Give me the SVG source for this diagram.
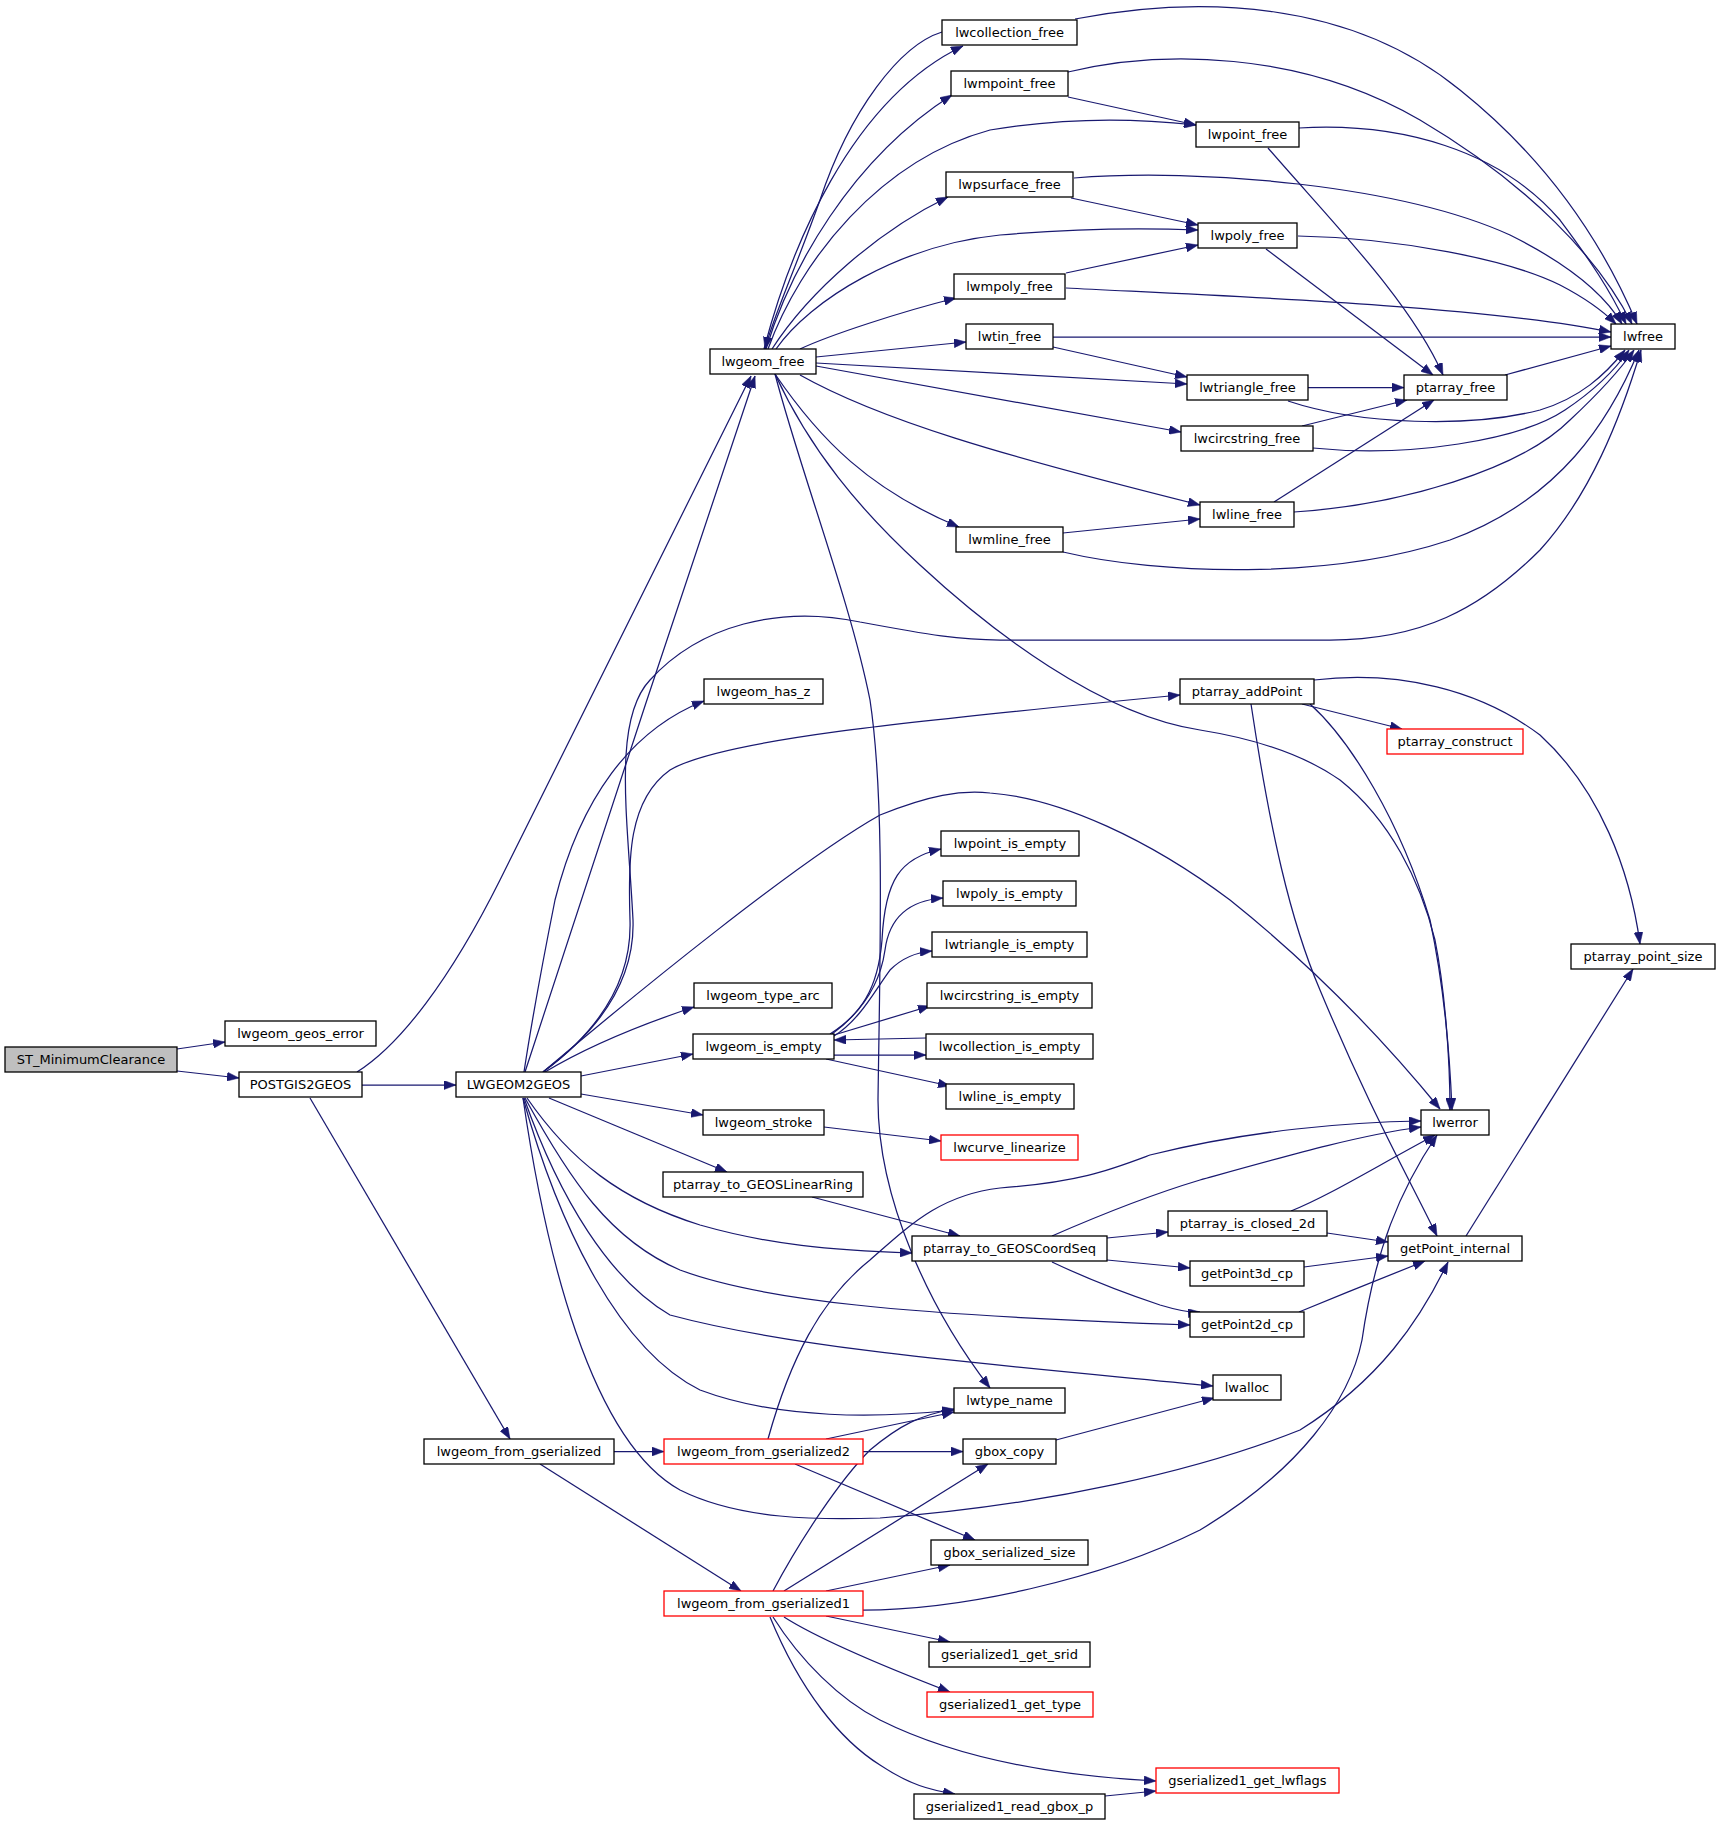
<svg xmlns="http://www.w3.org/2000/svg" width="1717" height="1825" viewBox="0 0 1717 1825">
<style>
.n rect{fill:#fff;stroke:#000;stroke-width:1.3}
.n.red rect{stroke:#ff0000}
.n.root rect{fill:#bfbfbf;stroke:#000}
.n text{font-family:"DejaVu Sans","Liberation Sans",sans-serif;font-size:13px;fill:#000;text-anchor:middle}
.e path{fill:none;stroke:#191970;stroke-width:1.25;marker-end:url(#ah)}
</style>
<defs>
<marker id="ah" markerUnits="userSpaceOnUse" viewBox="0 0 12 9" refX="12" refY="4.5" markerWidth="12" markerHeight="9" orient="auto">
<path d="M0,0 L12,4.5 L0,9 z" fill="#191970" stroke="#191970" stroke-width="0.5"/>
</marker>
</defs>
<rect width="1717" height="1825" fill="#fff"/>
<g id="edges" class="e">
<path d="M177,1049 L225,1042"/>
<path d="M177,1071 L239,1078"/>
<path d="M357,1072 C400,1045 450,980 500,880 C600,680 700,480 751,376"/>
<path d="M362,1085 L456,1085"/>
<path d="M310,1098 L510,1439"/>
<path d="M525,1072 C560,960 700,540 755,376"/>
<path d="M543,1072 C600,1030 635,980 633,920 C628,820 612,720 650,680 C700,625 780,605 860,622 C930,635 960,640 1000,640 L1330,640 C1420,640 1480,610 1540,550 C1590,495 1620,420 1641,350"/>
<path d="M524,1072 C535,1000 545,950 555,900 C580,800 630,730 704,701"/>
<path d="M543,1072 C600,1030 632,980 630,920 C628,860 628,800 670,770 C720,740 900,722 1180,695"/>
<path d="M543,1072 C640,990 800,860 880,815 C930,795 960,790 990,793 C1060,798 1150,840 1230,900 C1330,980 1400,1060 1440,1109"/>
<path d="M545,1072 C590,1045 640,1025 694,1007"/>
<path d="M581,1076 L693,1054"/>
<path d="M581,1094 L703,1115"/>
<path d="M549,1098 L727,1172"/>
<path d="M527,1098 C570,1160 620,1200 700,1225 C770,1245 830,1250 912,1253"/>
<path d="M525,1098 C570,1180 610,1240 680,1270 C760,1300 900,1315 1190,1325"/>
<path d="M524,1098 C560,1200 610,1280 670,1315 C800,1350 1000,1365 1213,1386"/>
<path d="M523,1098 C560,1230 620,1350 700,1390 C780,1420 880,1418 954,1410"/>
<path d="M523,1098 C545,1250 590,1440 680,1490 C740,1520 820,1520 880,1518 C1050,1505 1200,1470 1300,1430 C1380,1380 1420,1320 1448,1262"/>
<path d="M1075,19 C1200,-5 1350,0 1460,90 C1560,170 1610,260 1637,324"/>
<path d="M1068,72 C1160,50 1300,50 1420,120 C1530,185 1600,260 1632,324"/>
<path d="M1068,97 L1196,125"/>
<path d="M1299,128 C1400,122 1500,150 1560,220 C1590,260 1610,290 1626,324"/>
<path d="M1268,148 C1330,220 1410,300 1443,375"/>
<path d="M1074,178 C1200,168 1400,185 1510,235 C1570,265 1605,295 1622,324"/>
<path d="M1071,198 L1198,225"/>
<path d="M1298,236 C1400,238 1510,260 1560,285 C1585,298 1602,310 1616,324"/>
<path d="M1266,249 L1433,375"/>
<path d="M1066,273 L1198,245"/>
<path d="M1066,288 C1200,295 1480,305 1611,332"/>
<path d="M1053,337 L1611,337"/>
<path d="M1053,347 L1187,377"/>
<path d="M1308,387.5 L1404,387.5"/>
<path d="M1288,401 C1360,425 1470,428 1540,410 C1580,398 1605,375 1625,350"/>
<path d="M1505,375 L1611,346"/>
<path d="M1302,426 L1407,400"/>
<path d="M1313,448 C1410,458 1520,440 1565,410 C1595,390 1615,370 1629,350"/>
<path d="M1274,502 L1434,400"/>
<path d="M1294,512 C1400,505 1520,470 1570,420 C1600,392 1620,370 1634,350"/>
<path d="M1063,533 L1200,519"/>
<path d="M1063,552 C1160,575 1330,580 1450,540 C1560,500 1610,420 1639,350"/>
<path d="M775,374 C820,440 870,490 959,527"/>
<path d="M800,375 C880,420 1000,455 1200,505"/>
<path d="M816,366 L1181,432"/>
<path d="M816,363 L1187,384"/>
<path d="M816,357 L966,342"/>
<path d="M800,349 C830,335 900,312 956,298"/>
<path d="M776,349 C810,300 900,245 1000,235 C1080,228 1150,228 1198,230"/>
<path d="M772,349 C810,290 880,230 948,197"/>
<path d="M768,349 C800,260 880,160 990,130 C1080,115 1150,120 1196,125"/>
<path d="M766,349 C790,270 850,160 952,95"/>
<path d="M764,349 C790,250 850,100 963,46"/>
<path d="M942,32 C900,45 850,110 820,200 C795,270 772,320 765,349"/>
<path d="M775,374 C810,450 860,510 920,565 C990,630 1100,715 1200,730 C1250,738 1300,752 1340,780 C1390,820 1420,880 1435,940 C1445,990 1450,1060 1450,1110"/>
<path d="M775,374 C800,470 850,600 870,700 C885,800 880,950 878,1100 C878,1200 930,1310 990,1388"/>
<path d="M1302,704 L1402,729"/>
<path d="M1310,704 C1350,740 1400,820 1430,920 C1445,990 1450,1060 1452,1110"/>
<path d="M1251,704 C1270,830 1290,920 1320,990 C1370,1110 1410,1180 1437,1236"/>
<path d="M1314,680 C1400,670 1480,690 1540,735 C1600,790 1630,870 1640,944"/>
<path d="M830,1034 C860,1015 878,990 882,940 C885,880 900,858 941,849"/>
<path d="M832,1034 C862,1012 880,985 885,950 C890,912 915,900 943,898"/>
<path d="M834,1036 C860,1020 875,990 890,970 C905,955 920,952 932,951"/>
<path d="M834,1035 L930,1006"/>
<path d="M834,1055 L926,1055"/>
<path d="M926,1038 L834,1040"/>
<path d="M826,1059 L950,1086"/>
<path d="M824,1127 L941,1141"/>
<path d="M812,1197 L960,1236"/>
<path d="M1052,1236 C1100,1215 1150,1195 1200,1180 C1290,1155 1360,1135 1421,1127"/>
<path d="M1107,1238 L1168,1232"/>
<path d="M1107,1260 L1190,1268"/>
<path d="M1052,1262 C1090,1280 1130,1295 1160,1305 C1180,1311 1190,1313 1200,1312"/>
<path d="M1291,1211 C1330,1195 1370,1170 1435,1135"/>
<path d="M1327,1233 L1388,1242"/>
<path d="M1304,1267 L1388,1256"/>
<path d="M1299,1312 C1340,1295 1390,1275 1425,1261"/>
<path d="M1466,1236 L1633,969"/>
<path d="M768,1439 C790,1360 820,1300 870,1260 C910,1225 940,1195 1000,1188 C1080,1182 1110,1170 1150,1155 C1250,1130 1350,1122 1421,1121"/>
<path d="M614,1451.5 L664,1451.5"/>
<path d="M540,1464 L741,1591"/>
<path d="M826,1439 L954,1412"/>
<path d="M863,1451.5 L963,1451.5"/>
<path d="M795,1464 L975,1540"/>
<path d="M773,1591 C800,1540 840,1480 870,1450 C900,1425 920,1415 954,1409"/>
<path d="M784,1591 L988,1464"/>
<path d="M826,1591 L950,1565"/>
<path d="M863,1610 C960,1610 1100,1580 1200,1530 C1300,1470 1350,1400 1362,1340 C1375,1250 1400,1190 1437,1135"/>
<path d="M826,1616 L950,1642"/>
<path d="M784,1617 C820,1640 880,1665 950,1692"/>
<path d="M773,1617 C800,1660 840,1700 880,1720 C950,1755 1040,1775 1156,1781"/>
<path d="M770,1617 C800,1690 840,1740 880,1765 C910,1785 930,1790 955,1794"/>
<path d="M1105,1796 L1156,1791"/>
<path d="M1056,1440 L1214,1398"/>
</g>
<g id="n1" class="n root"><rect x="5" y="1047" width="172" height="25"/><text x="91" y="1064">ST_MinimumClearance</text></g>
<g id="n2" class="n"><rect x="225" y="1021" width="151" height="25"/><text x="300.5" y="1038">lwgeom_geos_error</text></g>
<g id="n3" class="n"><rect x="239" y="1072" width="123" height="25"/><text x="300.5" y="1089">POSTGIS2GEOS</text></g>
<g id="n4" class="n"><rect x="456" y="1072" width="125" height="25"/><text x="518.5" y="1089">LWGEOM2GEOS</text></g>
<g id="n5" class="n"><rect x="710" y="349" width="106" height="25"/><text x="763" y="366">lwgeom_free</text></g>
<g id="n6" class="n"><rect x="942" y="20" width="135" height="25"/><text x="1009.5" y="37">lwcollection_free</text></g>
<g id="n7" class="n"><rect x="951" y="71" width="117" height="25"/><text x="1009.5" y="88">lwmpoint_free</text></g>
<g id="n8" class="n"><rect x="1196" y="122" width="103" height="25"/><text x="1247.5" y="139">lwpoint_free</text></g>
<g id="n9" class="n"><rect x="946" y="172" width="127" height="25"/><text x="1009.5" y="189">lwpsurface_free</text></g>
<g id="n10" class="n"><rect x="1198" y="223" width="99" height="25"/><text x="1247.5" y="240">lwpoly_free</text></g>
<g id="n11" class="n"><rect x="954" y="274" width="111" height="25"/><text x="1009.5" y="291">lwmpoly_free</text></g>
<g id="n12" class="n"><rect x="966" y="324" width="87" height="25"/><text x="1009.5" y="341">lwtin_free</text></g>
<g id="n13" class="n"><rect x="1187" y="375" width="121" height="25"/><text x="1247.5" y="392">lwtriangle_free</text></g>
<g id="n14" class="n"><rect x="1404" y="375" width="103" height="25"/><text x="1455.5" y="392">ptarray_free</text></g>
<g id="n15" class="n"><rect x="1611" y="324" width="64" height="25"/><text x="1643" y="341">lwfree</text></g>
<g id="n16" class="n"><rect x="1181" y="426" width="132" height="25"/><text x="1247" y="443">lwcircstring_free</text></g>
<g id="n17" class="n"><rect x="1200" y="502" width="94" height="25"/><text x="1247" y="519">lwline_free</text></g>
<g id="n18" class="n"><rect x="956" y="527" width="107" height="25"/><text x="1009.5" y="544">lwmline_free</text></g>
<g id="n19" class="n"><rect x="704" y="679" width="119" height="25"/><text x="763.5" y="696">lwgeom_has_z</text></g>
<g id="n20" class="n"><rect x="1180" y="679" width="134" height="25"/><text x="1247" y="696">ptarray_addPoint</text></g>
<g id="n21" class="n red"><rect x="1387" y="729" width="136" height="25"/><text x="1455" y="746">ptarray_construct</text></g>
<g id="n22" class="n"><rect x="941" y="831" width="138" height="25"/><text x="1010" y="848">lwpoint_is_empty</text></g>
<g id="n23" class="n"><rect x="943" y="881" width="133" height="25"/><text x="1009.5" y="898">lwpoly_is_empty</text></g>
<g id="n24" class="n"><rect x="932" y="932" width="155" height="25"/><text x="1009.5" y="949">lwtriangle_is_empty</text></g>
<g id="n25" class="n"><rect x="1571" y="944" width="144" height="25"/><text x="1643" y="961">ptarray_point_size</text></g>
<g id="n26" class="n"><rect x="927" y="983" width="165" height="25"/><text x="1009.5" y="1000">lwcircstring_is_empty</text></g>
<g id="n27" class="n"><rect x="694" y="983" width="138" height="25"/><text x="763" y="1000">lwgeom_type_arc</text></g>
<g id="n28" class="n"><rect x="926" y="1034" width="167" height="25"/><text x="1009.5" y="1051">lwcollection_is_empty</text></g>
<g id="n29" class="n"><rect x="693" y="1034" width="141" height="25"/><text x="763.5" y="1051">lwgeom_is_empty</text></g>
<g id="n30" class="n"><rect x="946" y="1084" width="128" height="25"/><text x="1010" y="1101">lwline_is_empty</text></g>
<g id="n31" class="n"><rect x="703" y="1110" width="121" height="25"/><text x="763.5" y="1127">lwgeom_stroke</text></g>
<g id="n32" class="n"><rect x="1421" y="1110" width="68" height="25"/><text x="1455" y="1127">lwerror</text></g>
<g id="n33" class="n red"><rect x="941" y="1135" width="137" height="25"/><text x="1009.5" y="1152">lwcurve_linearize</text></g>
<g id="n34" class="n"><rect x="663" y="1172" width="200" height="25"/><text x="763" y="1189">ptarray_to_GEOSLinearRing</text></g>
<g id="n35" class="n"><rect x="1168" y="1211" width="159" height="25"/><text x="1247.5" y="1228">ptarray_is_closed_2d</text></g>
<g id="n36" class="n"><rect x="912" y="1236" width="195" height="25"/><text x="1009.5" y="1253">ptarray_to_GEOSCoordSeq</text></g>
<g id="n37" class="n"><rect x="1388" y="1236" width="134" height="25"/><text x="1455" y="1253">getPoint_internal</text></g>
<g id="n38" class="n"><rect x="1190" y="1261" width="114" height="25"/><text x="1247" y="1278">getPoint3d_cp</text></g>
<g id="n39" class="n"><rect x="1190" y="1312" width="114" height="25"/><text x="1247" y="1329">getPoint2d_cp</text></g>
<g id="n40" class="n"><rect x="1213" y="1375" width="68" height="25"/><text x="1247" y="1392">lwalloc</text></g>
<g id="n41" class="n"><rect x="954" y="1388" width="111" height="25"/><text x="1009.5" y="1405">lwtype_name</text></g>
<g id="n42" class="n"><rect x="424" y="1439" width="190" height="25"/><text x="519" y="1456">lwgeom_from_gserialized</text></g>
<g id="n43" class="n red"><rect x="664" y="1439" width="199" height="25"/><text x="763.5" y="1456">lwgeom_from_gserialized2</text></g>
<g id="n44" class="n"><rect x="963" y="1439" width="93" height="25"/><text x="1009.5" y="1456">gbox_copy</text></g>
<g id="n45" class="n"><rect x="931" y="1540" width="157" height="25"/><text x="1009.5" y="1557">gbox_serialized_size</text></g>
<g id="n46" class="n red"><rect x="664" y="1591" width="199" height="25"/><text x="763.5" y="1608">lwgeom_from_gserialized1</text></g>
<g id="n47" class="n"><rect x="929" y="1642" width="161" height="25"/><text x="1009.5" y="1659">gserialized1_get_srid</text></g>
<g id="n48" class="n red"><rect x="927" y="1692" width="166" height="25"/><text x="1010" y="1709">gserialized1_get_type</text></g>
<g id="n49" class="n red"><rect x="1156" y="1768" width="183" height="25"/><text x="1247.5" y="1785">gserialized1_get_lwflags</text></g>
<g id="n50" class="n"><rect x="914" y="1794" width="191" height="25"/><text x="1009.5" y="1811">gserialized1_read_gbox_p</text></g>
</svg>
